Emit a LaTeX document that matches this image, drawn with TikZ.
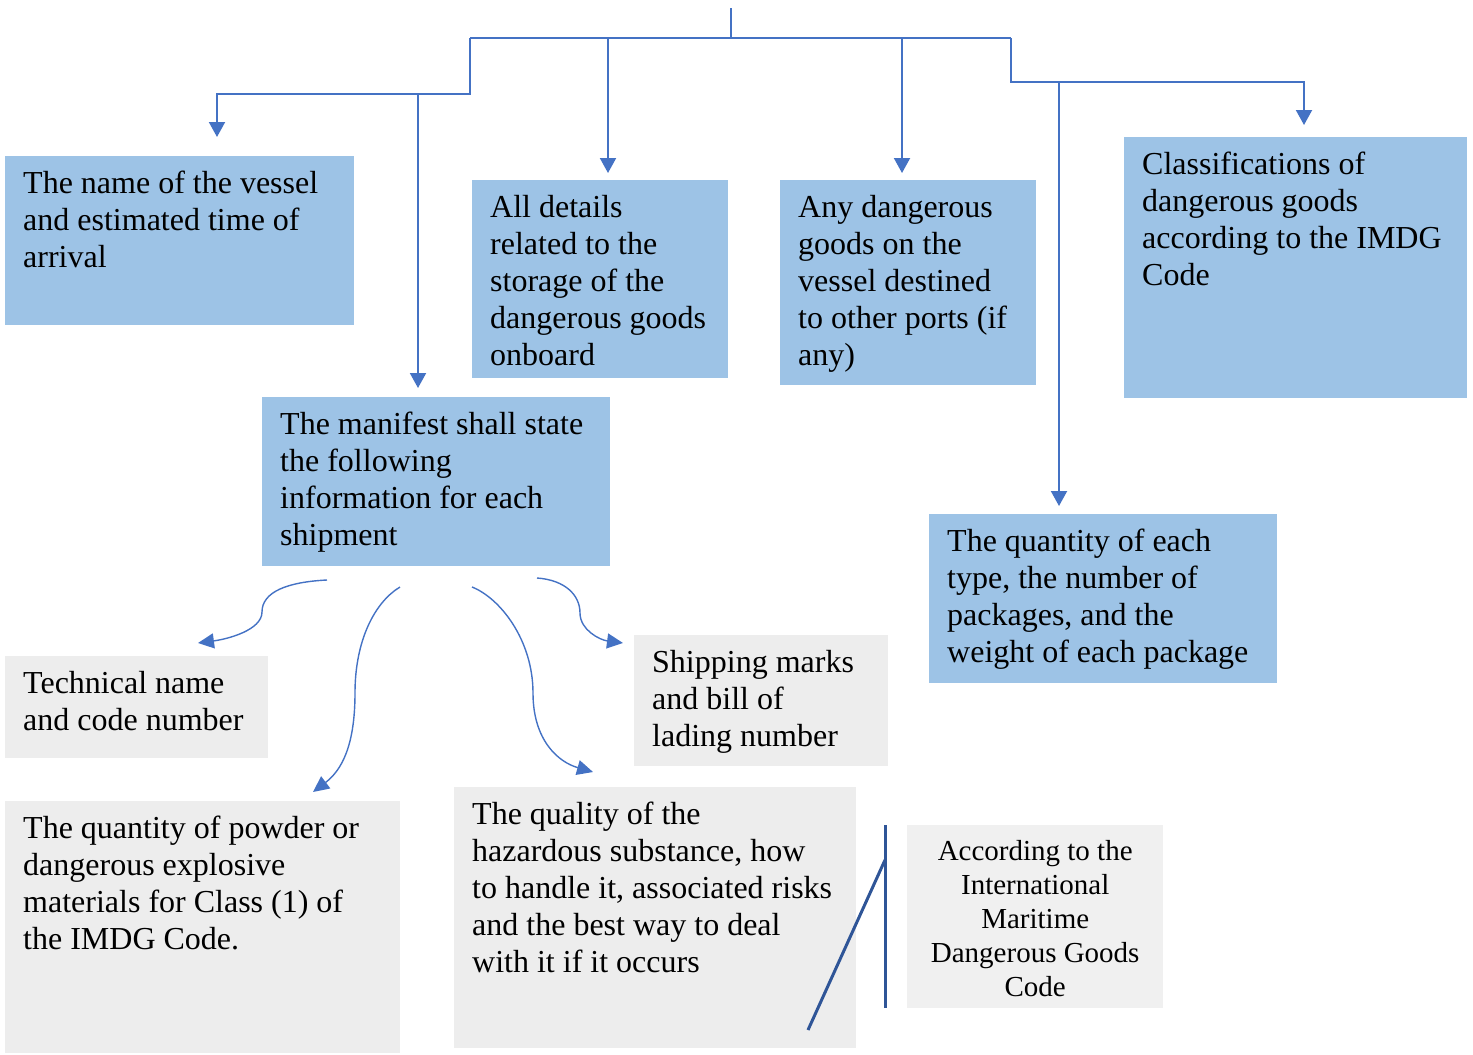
\documentclass[tikz,border=0pt]{standalone}
\usepackage{fontspec}
\setmainfont{Liberation Serif}
\usepackage{tikz}
\usetikzlibrary{arrows.meta}
\definecolor{boxblue}{HTML}{9DC3E6}
\definecolor{boxgray}{HTML}{EDEDED}
\definecolor{boxlight}{HTML}{F0F0F0}
\definecolor{linkblue}{HTML}{4472C4}
\definecolor{darkblue}{HTML}{2F5597}
\newcommand{\boxtext}[3]{\parbox[t][#2pt][t]{#1pt}{\raggedright #3}}
\newcommand{\boxtextc}[3]{\parbox[t][#2pt][t]{#1pt}{\centering #3}}
\tikzset{
    bluebox/.style={rectangle, fill=boxblue, anchor=north west, inner xsep=18pt, inner ysep=15pt, font=\fontsize{32}{37}\selectfont},
    graybox/.style={rectangle, fill=boxgray, anchor=north west, inner xsep=18pt, inner ysep=15pt, font=\fontsize{32}{37}\selectfont},
    notebox/.style={rectangle, fill=boxlight, anchor=north west, inner xsep=18pt, inner ysep=15pt, font=\fontsize{29}{34}\selectfont},
    link/.style={draw=linkblue, line width=2pt},
    arrow/.style={draw=linkblue, line width=2pt, -{Triangle[length=15pt, width=16pt]}},
    curved/.style={draw=linkblue, line width=1.4pt, -{Triangle[length=16pt, width=15pt]}},
    bracket/.style={draw=darkblue, line width=3pt}
}
\begin{document}
\begin{tikzpicture}[x=1pt, y=-1pt]
    \useasboundingbox (0,0) rectangle (1473,1055);
    % Nodes
    \node (vessel) [bluebox] at (5,156) {\boxtext{313}{139}{The name of the vessel\\ and estimated time of\\ arrival}};
    \node (details) [bluebox] at (472,180) {\boxtext{220}{168}{All details\\ related to the\\ storage of the\\ dangerous goods\\ onboard}};
    \node (otherports) [bluebox] at (780,180) {\boxtext{220}{175}{Any dangerous\\ goods on the\\ vessel destined\\ to other ports (if\\ any)}};
    \node (classes) [bluebox] at (1124,137) {\boxtext{307}{231}{Classifications of\\ dangerous goods\\ according to the IMDG\\ Code}};
    \node (manifest) [bluebox] at (262,397) {\boxtext{312}{139}{The manifest shall state\\ the following\\ information for each\\ shipment}};
    \node (quantity) [bluebox] at (929,514) {\boxtext{312}{139}{The quantity of each\\ type, the number of\\ packages, and the\\ weight of each package}};
    \node (technical) [graybox] at (5,656) {\boxtext{227}{72}{Technical name\\ and code number}};
    \node (marks) [graybox] at (634,635) {\boxtext{218}{101}{Shipping marks\\ and bill of\\ lading number}};
    \node (powder) [graybox] at (5,801) {\boxtext{359}{222}{The quantity of powder or\\ dangerous explosive\\ materials for Class (1) of\\ the IMDG Code.}};
    \node (quality) [graybox] at (454,787) {\boxtext{366}{231}{The quality of the\\ hazardous substance, how\\ to handle it, associated risks\\ and the best way to deal\\ with it if it occurs}};
    \node (imdg) [notebox] at (907,825) {\boxtextc{220}{153}{According to the\\ International\\ Maritime\\ Dangerous Goods\\ Code}};
    % Joints
    \coordinate (top) at (731,8);
    \coordinate (hub) at (731,38);
    \coordinate (hubL) at (470,38);
    \coordinate (hubR) at (1011,38);
    \coordinate (vesselIn) at (217,137);
    \coordinate (manifestIn) at (418,388);
    \coordinate (detailsIn) at (608,173);
    \coordinate (portsIn) at (902,173);
    \coordinate (classesIn) at (1304,125);
    \coordinate (quantityIn) at (1059,506);
    % Arrows
    \draw [link] (top) -- (hub);
    \draw [link] (hubL) -- (hubR);
    \draw [arrow] (hubL) -- ++(0,56) -| (vesselIn);
    \draw [arrow] (manifestIn |- 0,94) -- (manifestIn);
    \draw [arrow] (detailsIn |- hub) -- (detailsIn);
    \draw [arrow] (portsIn |- hub) -- (portsIn);
    \draw [arrow] (hubR) -- ++(0,44) -| (classesIn);
    \draw [arrow] (quantityIn |- 0,82) -- (quantityIn);
    % Curved arrows from the manifest
    \coordinate (m1) at (327,580);
    \coordinate (m2) at (400,587);
    \coordinate (m3) at (472,587);
    \coordinate (m4) at (537,578);
    \coordinate (technicalIn) at (198,643);
    \coordinate (powderIn) at (313,792);
    \coordinate (qualityIn) at (593,772);
    \coordinate (marksIn) at (623,643);
    \draw [curved] (m1) .. controls (287,582) and (262,592) .. (262,612) .. controls (262,630) and (228,639) .. (technicalIn);
    \draw [curved] (m2) .. controls (375,602) and (355,640) .. (355,693) .. controls (355,745) and (342,770) .. (powderIn);
    \draw [curved] (m3) .. controls (500,598) and (533,640) .. (533,693) .. controls (533,740) and (558,762) .. (qualityIn);
    \draw [curved] (m4) .. controls (565,580) and (580,595) .. (580,613) .. controls (580,630) and (600,640) .. (marksIn);
    % Bracket
    \draw [bracket] (885,825) -- (885,1008);
    \draw [bracket] (885,860) -- (808,1030);
\end{tikzpicture}
\end{document}
